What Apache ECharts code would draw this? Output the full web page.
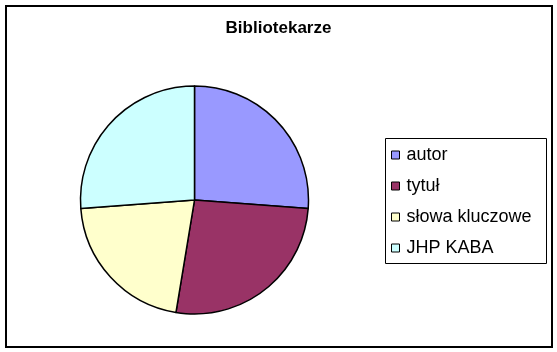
<!DOCTYPE html>
<html>
<head>
<meta charset="utf-8">
<script src="https://cdn.jsdelivr.net/npm/echarts@6/dist/echarts.min.js"></script>
<style>html,body{margin:0;padding:0;background:#fff}#c{width:557px;height:352px}</style>
</head>
<body>
<div id="c"></div>
<script>
const categories = ['autor', 'tytuł', 'słowa kluczowe', 'JHP KABA'];
const values = [26.2, 26.4, 21.2, 26.2];
const colors = ['#9999FF', '#993366', '#FFFFCC', '#CCFFFF'];
const titleText = 'Bibliotekarze';

const chart = echarts.init(document.getElementById('c'), null, {renderer: 'canvas'});
const font = '"Liberation Sans", Arial, sans-serif';
chart.setOption({
  animation: false,
  backgroundColor: '#fff',
  title: {
    text: titleText, left: 'center', top: 20, padding: 0,
    textStyle: {fontFamily: font, fontSize: 17, fontWeight: 'bold', color: '#000'}
  },
  graphic: [
    {type: 'rect', shape: {x: 6, y: 6, width: 546, height: 341}, style: {fill: 'none', stroke: '#000', lineWidth: 2}, z: 100},
    {type: 'rect', shape: {x: 385.5, y: 138.5, width: 161, height: 125}, style: {fill: 'none', stroke: '#000', lineWidth: 1}, z: 100}
  ],
  legend: {
    orient: 'vertical', left: 391, top: 146, padding: 0,
    itemWidth: 8, itemHeight: 8, itemGap: 13,
    icon: 'rect',
    itemStyle: {borderColor: '#000', borderWidth: 1},
    textStyle: {fontFamily: font, fontSize: 18, color: '#000', lineHeight: 18, padding: [0, 0, 0, 2]},
    data: categories
  },
  series: [{
    type: 'pie',
    center: [194.5, 200],
    radius: 114,
    startAngle: 90,
    clockwise: true,
    label: {show: false},
    labelLine: {show: false},
    emphasis: {disabled: true},
    itemStyle: {borderColor: '#000', borderWidth: 1.5},
    data: categories.map((n, i) => ({name: n, value: values[i], itemStyle: {color: colors[i]}}))
  }]
});
</script>
</body>
</html>
